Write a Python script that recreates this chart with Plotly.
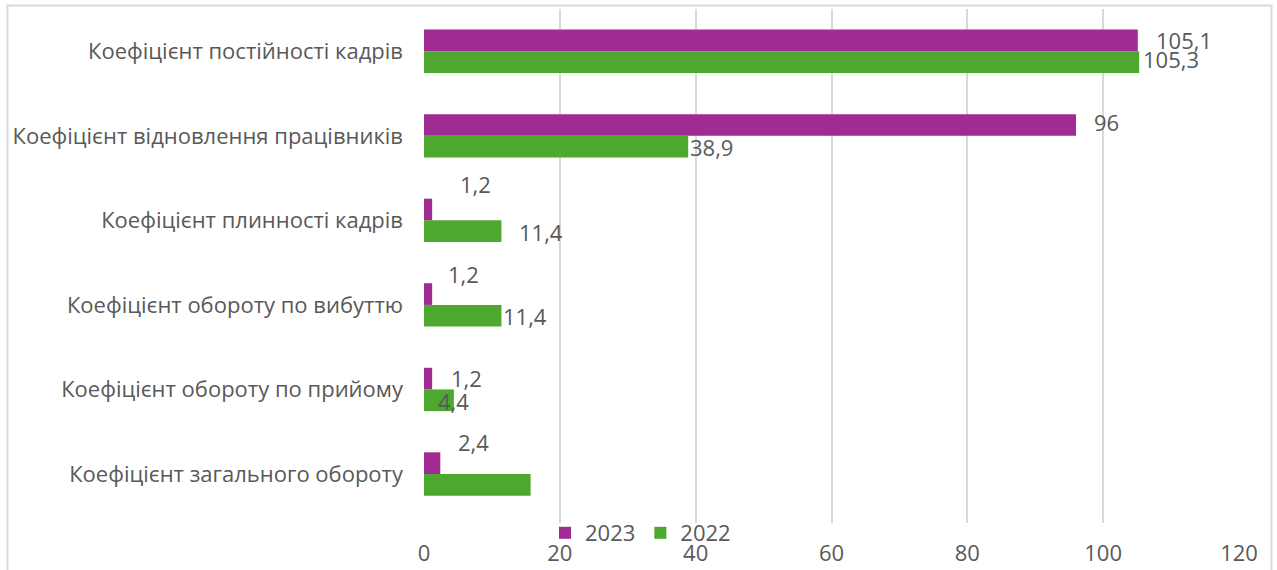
import plotly.graph_objects as go

# Staff movement coefficients, 2023 vs 2022
categories = [
    "Коефіцієнт постійності кадрів",
    "Коефіцієнт відновлення працівників",
    "Коефіцієнт плинності кадрів",
    "Коефіцієнт обороту по вибуттю",
    "Коефіцієнт обороту по прийому",
    "Коефіцієнт загального обороту",
]
values_2023 = [105.1, 96, 1.2, 1.2, 1.2, 2.4]
values_2022 = [105.3, 38.9, 11.4, 11.4, 4.4, 15.7]
show_label_2022 = [True, True, True, True, True, False]
x_ticks = [0, 20, 40, 60, 80, 100, 120]

# label placement: (gap after bar end in px, vertical shift in px, anchor)
label_style_2023 = [(16, 0, "left"), (16, 3, "left"), (26, 25, "left"),
                    (14, 20, "left"), (17, 0, "left"), (16, 21, "left")]
label_style_2022 = [(2, 3, "left"), (0, 0, "left"), (16, -1, "left"),
                    (0, 0, "left"), (0, -1, "center"), (0, 0, "left")]

PURPLE = "#A02B93"
GREEN = "#4EA72E"
TEXT = "#595959"
GRID = "#D9D9D9"
FONT = "Open Sans"
FS = 22

W, H = 1277, 570
L, R, T, B = 424, 38, 9, 47
plot_w = W - L - R
plot_h = H - T - B

fig = go.Figure()
fig.add_trace(go.Bar(y=categories, x=values_2023, name="2023", orientation="h",
                     marker=dict(color=PURPLE, line=dict(width=0))))
fig.add_trace(go.Bar(y=categories, x=values_2022, name="2022", orientation="h",
                     marker=dict(color=GREEN, line=dict(width=0))))


def fmt(v):
    return f"{v:g}".replace(".", ",")


annotations = []
for i, cat in enumerate(categories):
    gap, dy, anchor = label_style_2023[i]
    annotations.append(dict(x=values_2023[i], y=cat, xref="x", yref="y",
                            text=fmt(values_2023[i]), showarrow=False,
                            xanchor=anchor, yanchor="middle",
                            xshift=gap, yshift=11 + dy,
                            font=dict(family=FONT, size=FS, color=TEXT)))
    if show_label_2022[i]:
        gap, dy, anchor = label_style_2022[i]
        annotations.append(dict(x=values_2022[i], y=cat, xref="x", yref="y",
                                text=fmt(values_2022[i]), showarrow=False,
                                xanchor=anchor, yanchor="middle",
                                xshift=gap, yshift=-11 + dy,
                                font=dict(family=FONT, size=FS, color=TEXT)))


def px_x(p):
    return (p - L) / plot_w


def px_y(p):
    return (H - B - p) / plot_h


# chart frame
shapes = [dict(type="rect", xref="paper", yref="paper",
               x0=px_x(7.5), x1=px_x(1271.5), y0=px_y(580), y1=px_y(5.5),
               line=dict(color=GRID, width=2), fillcolor="rgba(0,0,0,0)",
               layer="below")]

fig.update_layout(
    width=W, height=H,
    margin=dict(l=L, r=R, t=T, b=B, autoexpand=False),
    paper_bgcolor="white", plot_bgcolor="white",
    barmode="group", bargap=0.487, bargroupgap=0,
    font=dict(family=FONT, size=FS, color=TEXT),
    showlegend=True,
    legend=dict(orientation="h", x=px_x(545), y=px_y(533), xanchor="left",
                yanchor="middle", font=dict(family=FONT, size=FS, color=TEXT),
                bgcolor="rgba(0,0,0,0)", itemwidth=30, tracegroupgap=0),
    annotations=annotations,
    shapes=shapes,
    xaxis=dict(range=[0, 120], tickvals=x_ticks, ticktext=[str(t) for t in x_ticks],
               showgrid=True, gridcolor=GRID, gridwidth=1.5, zeroline=False,
               showline=False, ticks="", ticklabelstandoff=15, automargin=False,
               tickfont=dict(family=FONT, size=FS, color=TEXT)),
    yaxis=dict(autorange="reversed", showgrid=False, zeroline=False,
               showline=False, ticks="", ticklabelstandoff=20, automargin=False,
               tickfont=dict(family=FONT, size=FS, color=TEXT)),
)

fig.write_html("out.html")
